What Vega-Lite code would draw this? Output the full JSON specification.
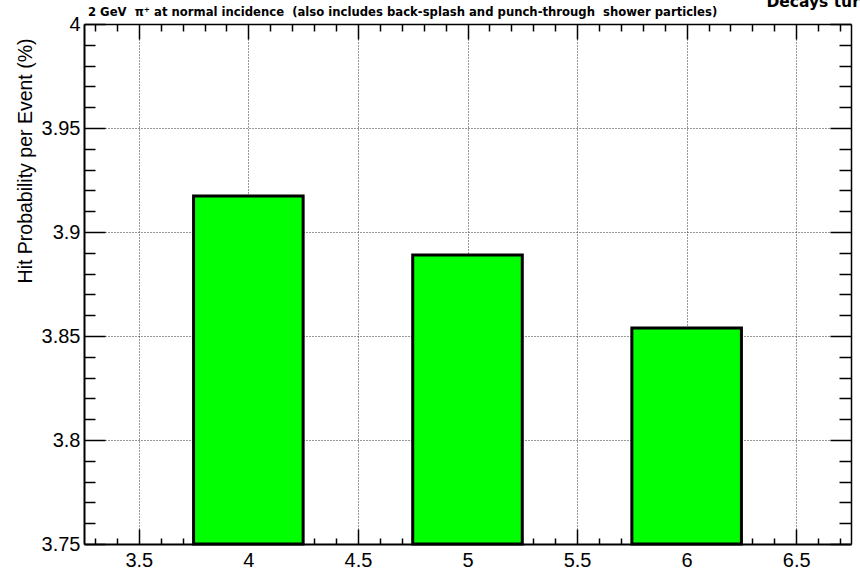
{
  "$schema": "https://vega.github.io/schema/vega-lite/v6.json",
  "width": 767,
  "height": 520,
  "autosize": {"type": "none"},
  "padding": {"left": 84, "top": 24, "right": 9, "bottom": 27},
  "background": "white",
  "config": {"view": {"stroke": null}, "font": "Liberation Sans"},
  "data": {"values": [
    {"x0": 3.75, "x1": 4.25, "prob": 3.9173},
    {"x0": 4.75, "x1": 5.25, "prob": 3.8889},
    {"x0": 5.75, "x1": 6.25, "prob": 3.8538}
  ]},
  "layer": [
    {
      "mark": {"type": "bar", "fill": "#00ff00", "stroke": "black", "strokeWidth": 3},
      "encoding": {
        "x": {
          "field": "x0", "type": "quantitative",
          "scale": {"domain": [3.25, 6.75], "nice": false, "zero": false},
          "axis": {
            "orient": "bottom", "title": null,
            "values": [3.3,3.4,3.5,3.6,3.7,3.8,3.9,4,4.1,4.2,4.3,4.4,4.5,4.6,4.7,4.8,4.9,5,5.1,5.2,5.3,5.4,5.5,5.6,5.7,5.8,5.9,6,6.1,6.2,6.3,6.4,6.5,6.6,6.7],
            "format": "~g",
            "labelExpr": "abs(datum.value*2-round(datum.value*2))<0.001 ? datum.label : ''",
            "labelFont": "Liberation Sans", "labelFontSize": 20, "labelColor": "black",
            "labelPadding": 21, "labelFlush": false, "labelOverlap": false, "labelBound": false,
            "tickSize": {"condition": {"test": "abs(datum.value*2-round(datum.value*2))<0.001", "value": -15}, "value": -6},
            "tickColor": "black", "tickWidth": 1.5,
            "domainColor": "black", "domainWidth": 2,
            "grid": true,
            "gridColor": "#333", "gridDash": [1, 2], "gridWidth": 1,
            "gridOpacity": {"condition": {"test": "abs(datum.value*2-round(datum.value*2))<0.001", "value": 1}, "value": 0}
          }
        },
        "x2": {"field": "x1"},
        "y": {
          "field": "prob", "type": "quantitative",
          "scale": {"domain": [3.75, 4], "nice": false, "zero": false},
          "axis": {
            "orient": "left",
            "title": "Hit Probability per Event (%)",
            "titleFont": "Liberation Sans", "titleFontSize": 19.5, "titleFontWeight": "normal", "titleColor": "black",
            "titleAnchor": "end", "titlePadding": 6, "titleY": 14,
            "values": [3.75,3.76,3.77,3.78,3.79,3.8,3.81,3.82,3.83,3.84,3.85,3.86,3.87,3.88,3.89,3.9,3.91,3.92,3.93,3.94,3.95,3.96,3.97,3.98,3.99,4],
            "format": "~g",
            "labelExpr": "abs(datum.value*20-round(datum.value*20))<0.001 ? datum.label : ''",
            "labelFont": "Liberation Sans", "labelFontSize": 20, "labelColor": "black",
            "labelPadding": 25, "labelFlush": false, "labelOverlap": false, "labelBound": false,
            "tickSize": {"condition": {"test": "abs(datum.value*20-round(datum.value*20))<0.001", "value": -21}, "value": -11},
            "tickColor": "black", "tickWidth": 1.5,
            "domainColor": "black", "domainWidth": 2,
            "grid": true,
            "gridColor": "#333", "gridDash": [1, 2], "gridWidth": 1,
            "gridOpacity": {"condition": {"test": "abs(datum.value*20-round(datum.value*20))<0.001", "value": 1}, "value": 0}
          }
        },
        "y2": {"datum": 3.75}
      }
    },
    {
      "mark": {"type": "bar", "opacity": 0},
      "encoding": {
        "x": {
          "field": "x0", "type": "quantitative",
          "axis": {
            "orient": "top", "title": null, "labels": false, "grid": false, "zindex": 1,
            "values": [3.3,3.4,3.5,3.6,3.7,3.8,3.9,4,4.1,4.2,4.3,4.4,4.5,4.6,4.7,4.8,4.9,5,5.1,5.2,5.3,5.4,5.5,5.6,5.7,5.8,5.9,6,6.1,6.2,6.3,6.4,6.5,6.6,6.7],
            "tickSize": {"condition": {"test": "abs(datum.value*2-round(datum.value*2))<0.001", "value": -15}, "value": -7},
            "tickColor": "black", "tickWidth": 1.5,
            "domainColor": "black", "domainWidth": 1.5
          }
        },
        "x2": {"field": "x1"},
        "y": {
          "field": "prob", "type": "quantitative",
          "axis": {
            "orient": "right", "title": null, "labels": false, "grid": false, "zindex": 1,
            "values": [3.75,3.76,3.77,3.78,3.79,3.8,3.81,3.82,3.83,3.84,3.85,3.86,3.87,3.88,3.89,3.9,3.91,3.92,3.93,3.94,3.95,3.96,3.97,3.98,3.99,4],
            "tickSize": {"condition": {"test": "abs(datum.value*20-round(datum.value*20))<0.001", "value": -21}, "value": -12},
            "tickColor": "black", "tickWidth": 1.5,
            "domainColor": "black", "domainWidth": 1.5
          }
        },
        "y2": {"datum": 3.75}
      }
    },
    {
      "data": {"values": [{"label": "2 GeV\u00a0 π⁺ at normal incidence\u00a0 (also includes back-splash and punch-through\u00a0 shower particles)", "lx": 3.268, "ly": 4}]},
      "mark": {"type": "text", "align": "left", "baseline": "alphabetic", "dy": -8, "fontSize": 11.65, "fontWeight": "bold", "font": "DejaVu Sans", "color": "black", "clip": false},
      "encoding": {
        "x": {"field": "lx", "type": "quantitative", "axis": null},
        "y": {"field": "ly", "type": "quantitative", "axis": null},
        "text": {"field": "label"}
      }
    },
    {
      "data": {"values": [{"label": "Decays turned off", "lx": 6.364, "ly": 4}]},
      "mark": {"type": "text", "align": "left", "baseline": "alphabetic", "dy": -17, "fontSize": 15.5, "fontWeight": "bold", "font": "DejaVu Sans", "color": "black", "clip": false},
      "encoding": {
        "x": {"field": "lx", "type": "quantitative", "axis": null},
        "y": {"field": "ly", "type": "quantitative", "axis": null},
        "text": {"field": "label"}
      }
    }
  ],
  "resolve": {"axis": {"x": "independent", "y": "independent"}}
}
